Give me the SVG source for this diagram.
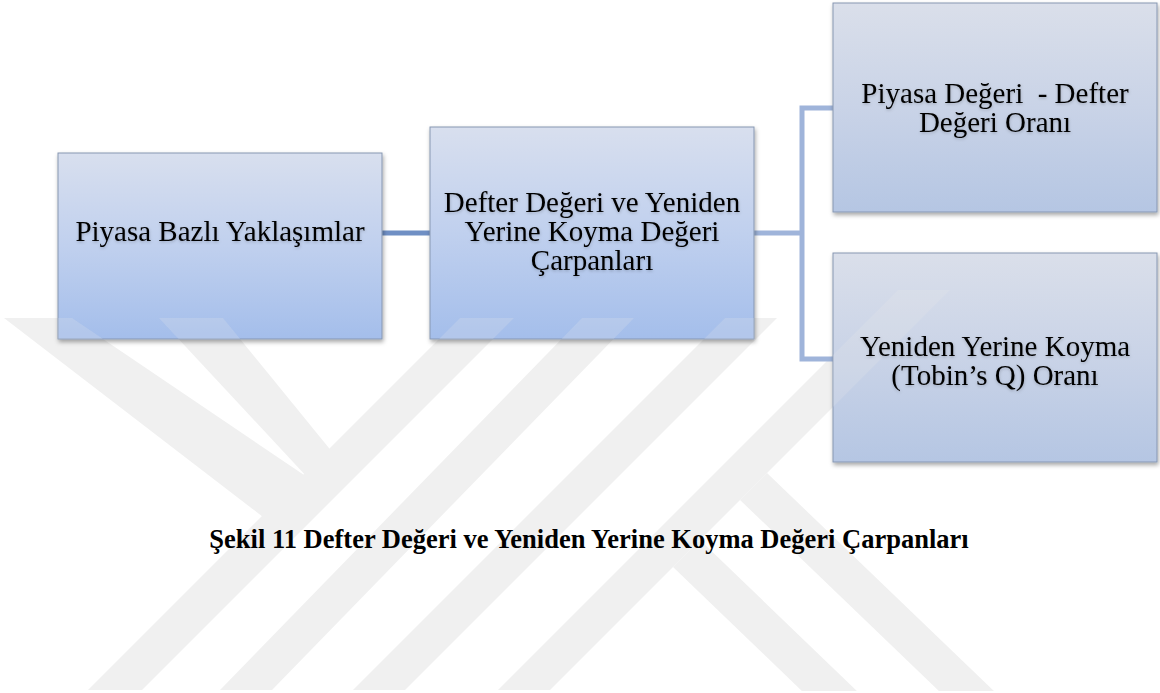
<svg xmlns="http://www.w3.org/2000/svg" xmlns:xlink="http://www.w3.org/1999/xlink" width="1160" height="693" viewBox="0 0 1160 693">
  <defs>
    <linearGradient id="fillBlue" x1="0" y1="0" x2="0" y2="1">
      <stop offset="0" stop-color="#d8dfee"/>
      <stop offset="0.5" stop-color="#c0d0ee"/>
      <stop offset="1" stop-color="#a4beeb"/>
    </linearGradient>
    <linearGradient id="fillGrey" x1="0" y1="0" x2="0" y2="1">
      <stop offset="0" stop-color="#dadfea"/>
      <stop offset="0.5" stop-color="#c9d3e7"/>
      <stop offset="1" stop-color="#b5c6e3"/>
    </linearGradient>
    <filter id="boxShadow" x="-5%" y="-5%" width="115%" height="120%">
      <feDropShadow dx="1" dy="2.5" stdDeviation="2" flood-color="#000" flood-opacity="0.35"/>
    </filter>
    <filter id="textShadow" x="-5%" y="-20%" width="110%" height="150%">
      <feDropShadow dx="0.3" dy="1.2" stdDeviation="1.4" flood-color="#000" flood-opacity="0.22"/>
    </filter>
    <!-- background emblem stripes -->
    <g id="emblem">
      <polygon points="4,318 72,318 307,477 263,517"/>
      <polygon points="159,318 223,318 333,453 307,477"/>
      <polygon points="88,690 142,690 514,318 460,318"/>
      <polygon points="220,690 272,690 634,318 582,318"/>
      <polygon points="353,690 405,690 777,318 725,318"/>
      <polygon points="498,690 550,690 950,290 898,290"/>
      <polygon points="767,473 996,693 941,693 740,500"/>
      <polygon points="700,540 859,693 804,693 673,567"/>
    </g>
    <clipPath id="emblemArea">
      <path d="M0,318 H780 V290 H1160 V691 H0 Z"/>
    </clipPath>
    <clipPath id="clipN1"><rect x="58" y="153" width="324" height="186"/></clipPath>
    <clipPath id="clipN2"><rect x="430" y="127" width="324" height="212"/></clipPath>
    <clipPath id="clipN3"><rect x="833" y="3" width="324" height="209"/></clipPath>
    <clipPath id="clipN4"><rect x="833" y="253" width="324" height="209"/></clipPath>
  </defs>
  <style>
    .box { stroke: #8797b2; stroke-width: 1; filter: url(#boxShadow); }
    .lbl { font-family: "Liberation Serif", "Times New Roman", serif; font-size: 29px; fill: #000; text-anchor: middle; filter: url(#textShadow); white-space: pre; }
    .cap { font-family: "Liberation Serif", "Times New Roman", serif; font-size: 26.5px; font-weight: bold; fill: #000; text-anchor: middle; }
    .link { fill: none; stroke-width: 5; stroke-linecap: butt; stroke-linejoin: miter; }
    .mark { fill: #f0f0f0; }
    .markLit { fill: #ececec; opacity: 0.2; }
  </style>

  <rect width="1160" height="693" fill="#ffffff"/>

  <!-- faint emblem behind the page content -->
  <g id="watermark" clip-path="url(#emblemArea)">
    <use xlink:href="#emblem" class="mark"/>
  </g>

  <!-- connectors -->
  <g id="connectors">
    <path class="link" stroke="#6f8fc4" d="M382,233 H430"/>
    <path class="link" stroke="#9fb4da" d="M754,233 H802 M802,105.5 V361.5 M799.5,108 H833 M799.5,359 H833"/>
  </g>

  <!-- nodes -->
  <g id="node-piyasa-bazli">
    <rect class="box" x="58" y="153" width="324" height="186" fill="url(#fillBlue)"/>
    <g clip-path="url(#clipN1)"><use xlink:href="#emblem" class="markLit" clip-path="url(#emblemArea)"/></g>
    <text class="lbl" x="220" y="241">Piyasa Bazlı Yaklaşımlar</text>
  </g>

  <g id="node-defter-degeri">
    <rect class="box" x="430" y="127" width="324" height="212" fill="url(#fillBlue)"/>
    <g clip-path="url(#clipN2)"><use xlink:href="#emblem" class="markLit" clip-path="url(#emblemArea)"/></g>
    <text class="lbl" x="592" y="212">Defter Değeri ve Yeniden</text>
    <text class="lbl" x="592" y="241">Yerine Koyma Değeri</text>
    <text class="lbl" x="592" y="270">Çarpanları</text>
  </g>

  <g id="node-pd-dd-orani">
    <rect class="box" x="833" y="3" width="324" height="209" fill="url(#fillGrey)"/>
    <g clip-path="url(#clipN3)"><use xlink:href="#emblem" class="markLit" clip-path="url(#emblemArea)"/></g>
    <text class="lbl" x="995" y="103">Piyasa Değeri  - Defter</text>
    <text class="lbl" x="995" y="132">Değeri Oranı</text>
  </g>

  <g id="node-tobins-q">
    <rect class="box" x="833" y="253" width="324" height="209" fill="url(#fillGrey)"/>
    <g clip-path="url(#clipN4)"><use xlink:href="#emblem" class="markLit" clip-path="url(#emblemArea)"/></g>
    <text class="lbl" x="995" y="356">Yeniden Yerine Koyma</text>
    <text class="lbl" x="995" y="385">(Tobin’s Q) Oranı</text>
  </g>

  <!-- figure caption -->
  <text class="cap" x="589" y="548">Şekil 11 Defter Değeri ve Yeniden Yerine Koyma Değeri Çarpanları</text>
</svg>
